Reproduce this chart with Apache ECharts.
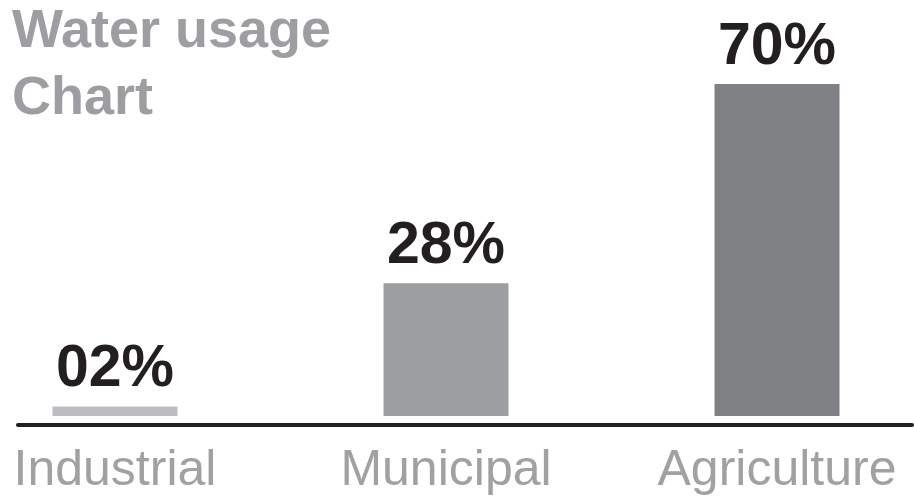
<!DOCTYPE html>
<html>
<head>
<meta charset="utf-8">
<script src="https://cdn.jsdelivr.net/npm/echarts@6/dist/echarts.min.js"></script>
<style>
html,body{margin:0;padding:0;background:#fff;}
#chart{width:914px;height:496px;}
</style>
</head>
<body>
<div id="chart"></div>
<script>
const titleText = 'Water usage\nChart';
const categories = ['Industrial', 'Municipal', 'Agriculture'];
const values = [2, 28, 70];
const barColors = ['#bcbdc0', '#9d9ea1', '#808184'];

const FONT = '"Liberation Sans", Arial, Helvetica, sans-serif';
const chart = echarts.init(document.getElementById('chart'), null, {renderer: 'canvas'});
chart.setOption({
  backgroundColor: '#ffffff',
  animation: false,
  title: {
    text: titleText,
    left: 12,
    top: -1,
    padding: 0,
    textStyle: {
      fontFamily: FONT,
      fontSize: 54,
      fontWeight: 'bold',
      lineHeight: 67,
      color: '#9d9ea1'
    }
  },
  grid: [
    {left: 115, right: 137, top: 84, bottom: 80, containLabel: false},
    {left: 18, right: 2, top: 0, bottom: 71, containLabel: false}
  ],
  xAxis: [
    {
      type: 'category',
      gridIndex: 0,
      data: categories,
      boundaryGap: false,
      axisLine: {show: false},
      axisTick: {show: false},
      axisLabel: {
        margin: 30,
        fontFamily: FONT,
        fontSize: 50,
        color: '#a0a1a3',
        interval: 0
      }
    },
    {
      type: 'category',
      gridIndex: 1,
      data: [''],
      axisLine: {show: true, lineStyle: {color: '#231f20', width: 4}},
      axisTick: {show: false},
      axisLabel: {show: false}
    }
  ],
  yAxis: [
    {type: 'value', gridIndex: 0, min: 0, max: 70, show: false},
    {type: 'value', gridIndex: 1, min: 0, max: 1, show: false}
  ],
  series: [{
    type: 'bar',
    xAxisIndex: 0,
    yAxisIndex: 0,
    barWidth: 125,
    data: values.map((v, i) => ({value: v, itemStyle: {color: barColors[i]}})),
    label: {
      show: true,
      position: 'top',
      distance: 7,
      fontFamily: FONT,
      fontSize: 59,
      fontWeight: 'bold',
      color: '#231f20',
      formatter: p => String(p.value).padStart(2, '0') + '%'
    }
  }]
});
</script>
</body>
</html>
